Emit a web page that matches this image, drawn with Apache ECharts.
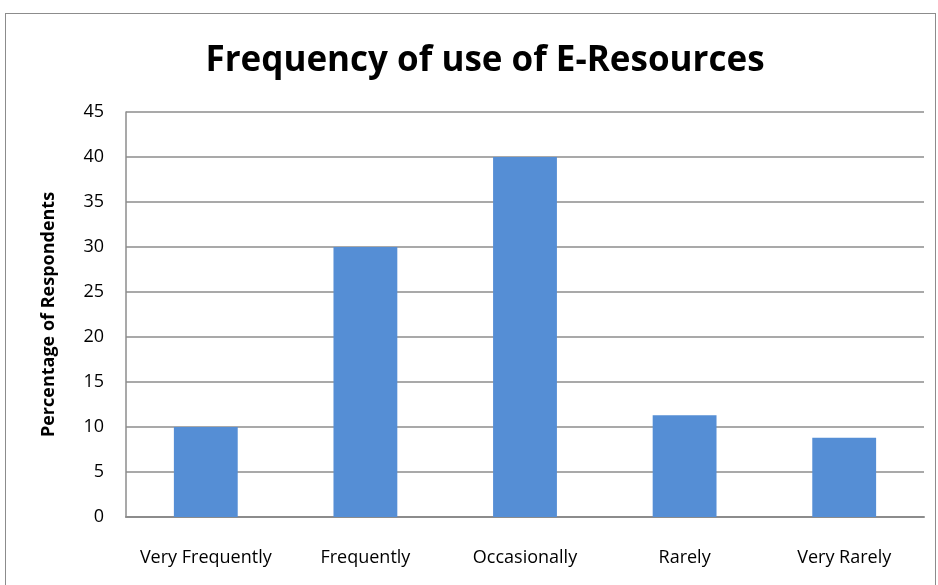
<!DOCTYPE html>
<html>
<head>
<meta charset="utf-8">
<script src="https://cdn.jsdelivr.net/npm/echarts@6/dist/echarts.min.js"></script>
<style>
  html, body { margin: 0; padding: 0; background: #fff; }
  #frame { position: absolute; left: 5px; top: 13px; width: 931px; height: 580px; border: 1.5px solid #8c8c8c; box-sizing: border-box; }
  #chart { width: 938px; height: 585px; position: absolute; left: 0; top: 0; }
</style>
</head>
<body>
<div id="frame"></div>
<div id="chart"></div>
<script>
// Survey responses: how often respondents use e-resources
const categories = ['Very Frequently', 'Frequently', 'Occasionally', 'Rarely', 'Very Rarely'];
const percentages = [10, 30, 40, 11.3, 8.8];
const yTicks = [0, 5, 10, 15, 20, 25, 30, 35, 40, 45];

const FONT = 'Open Sans';
const chart = echarts.init(document.getElementById('chart'));
chart.setOption({
  animation: false,
  title: {
    text: 'Frequency of use of E-Resources',
    left: 480,
    textAlign: 'center',
    top: 39,
    textStyle: { fontFamily: FONT, fontWeight: 'bold', fontSize: 35, color: '#000' }
  },
  grid: { left: 126, right: 14, top: 112, bottom: 68, containLabel: false },
  xAxis: {
    type: 'category',
    data: categories,
    axisLine: { show: true, lineStyle: { color: '#8c8c8c', width: 2 } },
    axisTick: { show: false },
    axisLabel: { fontFamily: FONT, fontSize: 18, color: '#000', margin: 32, interval: 0 }
  },
  yAxis: {
    type: 'value',
    min: yTicks[0],
    max: yTicks[yTicks.length - 1],
    interval: 5,
    name: 'Percentage of Respondents',
    nameLocation: 'middle',
    nameGap: 68,
    nameRotate: 90,
    nameTextStyle: { fontFamily: FONT, fontWeight: 'bold', fontSize: 18, color: '#000' },
    axisLine: { show: true, lineStyle: { color: '#8c8c8c', width: 1.5 } },
    axisTick: { show: false },
    axisLabel: { fontFamily: FONT, fontSize: 18, color: '#000', margin: 22 },
    splitLine: { show: true, lineStyle: { color: '#8c8c8c', width: 1.5 } }
  },
  series: [{
    type: 'bar',
    data: percentages,
    barWidth: '40%',
    itemStyle: { color: '#558ed5' }
  }]
});
</script>
</body>
</html>
